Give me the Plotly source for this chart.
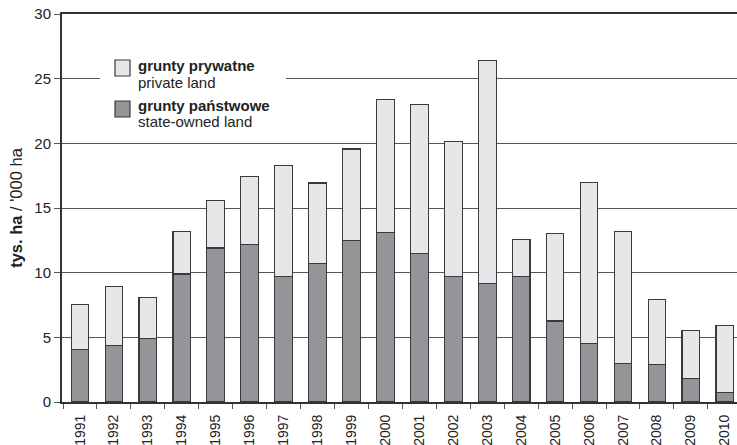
import plotly.graph_objects as go

years = [str(y) for y in range(1991, 2011)]
total = [7.55, 8.92, 8.09, 13.18, 15.56, 17.47, 18.32, 16.93, 19.56, 23.39,
         23.02, 20.16, 26.43, 12.56, 13.03, 17.0, 13.18, 7.94, 5.56, 5.92]
state = [4.08, 4.37, 4.91, 9.9, 11.91, 12.2, 9.72, 10.73, 12.46, 13.08,
         11.45, 9.72, 9.18, 9.72, 6.26, 4.52, 3.0, 2.92, 1.81, 0.73]
private = [round(t - s, 2) for t, s in zip(total, state)]

y_ticks = [0, 5, 10, 15, 20, 25, 30]

LIGHT = "#e6e7e8"
DARK = "#939598"
EDGE = "#3a3a3a"
FONT = "Liberation Sans, Arial, sans-serif"

fig = go.Figure()
fig.add_trace(go.Bar(x=years, y=state, name="state", marker=dict(color=DARK, line=dict(color=EDGE, width=1.1)), width=0.52))
fig.add_trace(go.Bar(x=years, y=private, name="private", marker=dict(color=LIGHT, line=dict(color=EDGE, width=1.1)), width=0.52))

W, H = 737, 445
L, R, T, B = 62, 0, 14, 43
pw, ph = W - L - R, H - T - B

def px(x):
    return (x - L) / pw

def py(y):
    return (H - B - y) / ph

shapes = [
    dict(type="rect", xref="paper", yref="paper", x0=px(100), x1=px(286), y0=py(52), y1=py(130),
         fillcolor="white", line=dict(width=0), layer="above"),
    dict(type="rect", xref="paper", yref="paper", x0=px(115), x1=px(130), y0=py(76), y1=py(60),
         fillcolor=LIGHT, line=dict(color=EDGE, width=1.2), layer="above"),
    dict(type="rect", xref="paper", yref="paper", x0=px(115), x1=px(130), y0=py(117), y1=py(101),
         fillcolor=DARK, line=dict(color=EDGE, width=1.2), layer="above"),
]

annotations = []
for txt, yy in [("<b>grunty prywatne</b>", 66), ("private land", 82),
                ("<b>grunty państwowe</b>", 105), ("state-owned land", 121)]:
    annotations.append(dict(text=txt, xref="paper", yref="paper", x=px(136), y=py(yy),
                            xanchor="left", yanchor="middle", showarrow=False,
                            font=dict(family=FONT, size=15, color="#222")))

fig.update_layout(
    width=W, height=H, autosize=False,
    margin=dict(l=L, r=R, t=T, b=B, pad=0, autoexpand=False),
    barmode="stack",
    paper_bgcolor="white", plot_bgcolor="white",
    showlegend=False,
    shapes=shapes,
    annotations=annotations,
    font=dict(family=FONT, color="#222"),
    xaxis=dict(
        type="category", range=[-0.53, 19.36], automargin=False,
        tickangle=-90, tickfont=dict(family=FONT, size=14, color="#222"),
        showline=True, linecolor="#333", linewidth=2, mirror=True,
        ticks="outside", tickson="boundaries", ticklen=5, tickcolor="#555", tickwidth=1,
        ticklabelstandoff=5,
        showgrid=False,
    ),
    yaxis=dict(
        range=[0, 30], tickvals=y_ticks, automargin=False,
        tickfont=dict(family=FONT, size=15, color="#222"),
        showline=True, linecolor="#333", linewidth=2,
        ticks="outside", ticklen=6, tickcolor="#555", tickwidth=1,
        showgrid=True, gridcolor="#555", gridwidth=1,
        zeroline=False,
        title=dict(text="<b>tys. ha</b> / '000 ha", font=dict(family=FONT, size=16.5, color="#222"), standoff=8),
    ),
)

fig.write_html("out.html", config={"displayModeBar": False},
               post_script="document.body.style.margin='0';document.body.style.padding='0';")
